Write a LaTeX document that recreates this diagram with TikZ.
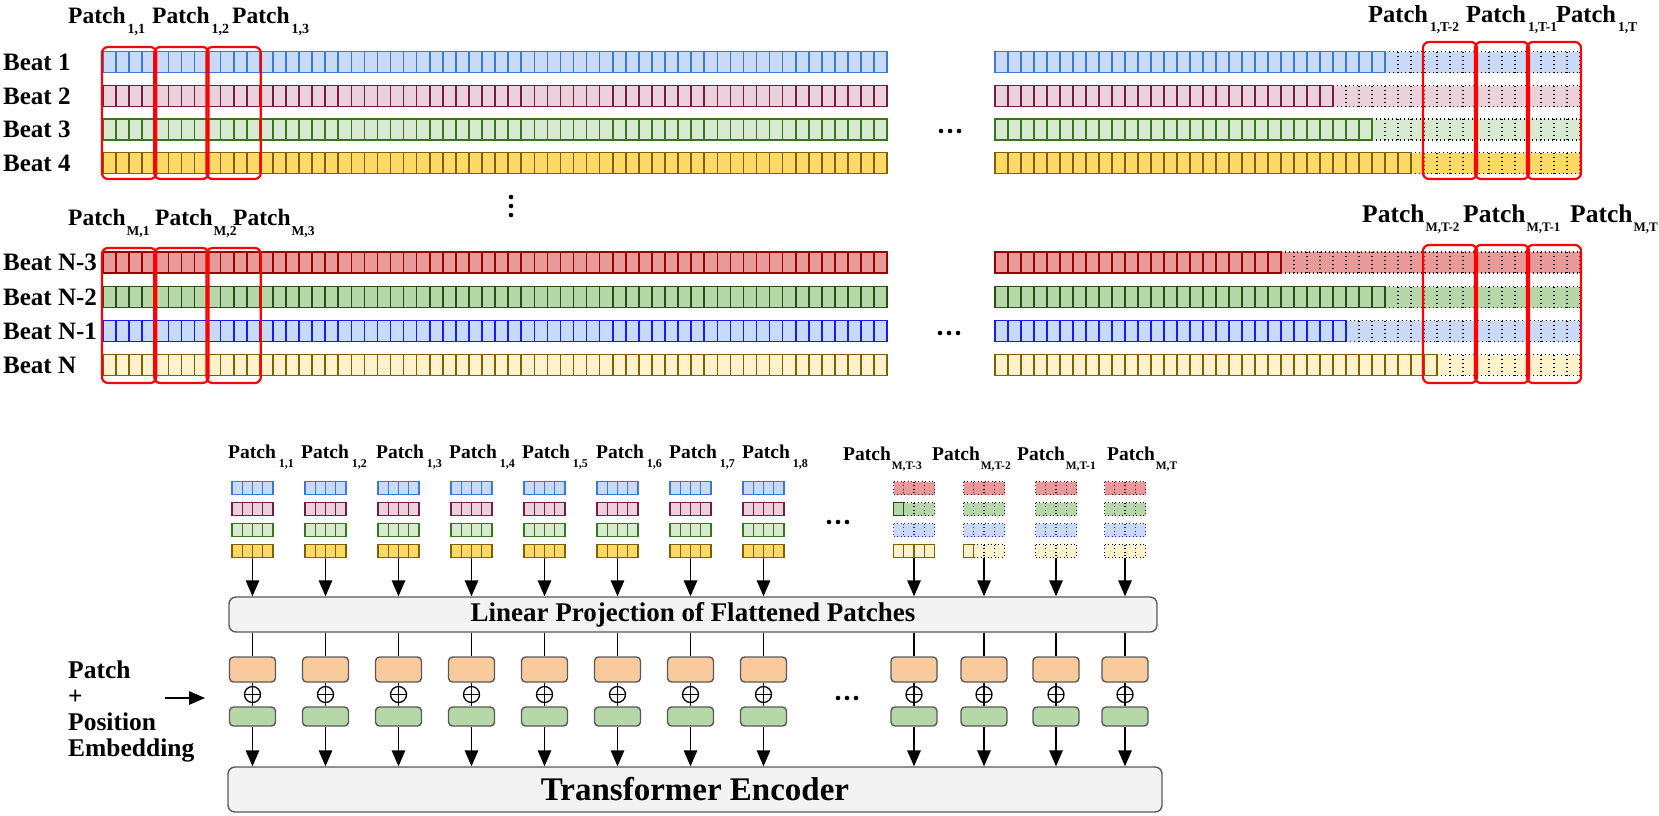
\documentclass[tikz,border=0pt]{standalone}
\usepackage{fontspec}
\setmainfont{Liberation Serif}
\usetikzlibrary{arrows.meta}
\definecolor{blueF}{HTML}{C9DAF8}
\definecolor{blueD}{HTML}{3C78D8}
\definecolor{blueD2}{HTML}{1A1AF5}
\definecolor{pinkF}{HTML}{EAD1DC}
\definecolor{pinkD}{HTML}{741B47}
\definecolor{greenF}{HTML}{D9EAD3}
\definecolor{greenD}{HTML}{38761D}
\definecolor{greenF2}{HTML}{B6D7A8}
\definecolor{greenD2}{HTML}{274E13}
\definecolor{yellowF}{HTML}{FFD966}
\definecolor{yellowF2}{HTML}{FFF2CC}
\definecolor{yellowD}{HTML}{7F6000}
\definecolor{redF}{HTML}{EA9999}
\definecolor{redD}{HTML}{990000}
\definecolor{orangeF}{HTML}{F9CB9C}
\definecolor{boxD}{HTML}{595959}
\definecolor{lpF}{HTML}{F3F3F3}
\definecolor{patchRed}{HTML}{FF0000}

% #1 x0, #2 y centre, #3 cell width, #4 cell height, #5 total cells, #6 solid cells, #7 fill, #8 edge, #9 dot colour
\newcommand\cellrow[9]{%
  \pgfmathsetmacro\xa{#1}%
  \pgfmathsetmacro\xs{#1+#6*#3}%
  \pgfmathsetmacro\xe{#1+#5*#3}%
  \pgfmathsetmacro\yt{#2-#4/2}%
  \pgfmathsetmacro\yb{#2+#4/2}%
  \ifnum#6<#5\relax
    \fill[#7] (\xs,\yt) rectangle (\xe,\yb);
    \draw[#9,dotline] (\xs,\yt) -- (\xe,\yt) (\xs,\yb) -- (\xe,\yb);
    \foreach \k in {#6,...,#5}{\draw[#9,dotline] ({#1+\k*#3},\yt) -- ({#1+\k*#3},\yb);}
  \fi
  \ifnum#6>0\relax
    \fill[#7] (\xa,\yt) rectangle (\xs,\yb);
    \foreach \k in {0,...,#6}{\draw[#8,solidline] ({#1+\k*#3},\yt) -- ({#1+\k*#3},\yb);}
    \draw[#8,solidline] (\xa,\yt) rectangle (\xs,\yb);
  \fi
}
% #1 drop, #2 subscript size, #3 gap, #4 subscript
\newcommand\psub[4]{Patch\hspace{#3}\raisebox{-#1}{\fontsize{#2}{#2}\selectfont #4}}

\begin{document}
\begin{tikzpicture}[x=1pt,y=-1pt,
  solidline/.style={line width=1.6pt},
  dotline/.style={line width=1.4pt, dash pattern=on 1.4pt off 2.6pt},
  pbox/.style={draw=patchRed, line width=2.2pt, rounded corners=6pt},
  beat/.style={font=\fontsize{25}{25}\selectfont\bfseries, anchor=base west, inner sep=0},
  lblS/.style={font=\fontsize{23.5}{23.5}\selectfont\bfseries, anchor=base west, inner sep=0},
  lblL/.style={font=\fontsize{24.5}{24.5}\selectfont\bfseries, anchor=base west, inner sep=0},
  lblB/.style={font=\fontsize{19.5}{19.5}\selectfont\bfseries, anchor=base west, inner sep=0},
  bigbox/.style={draw=boxD, fill=lpF, line width=1.4pt, rounded corners=7pt, inner sep=0},
  obox/.style={draw=boxD, fill=orangeF, line width=1.4pt, rounded corners=4pt, minimum width=46pt, minimum height=25pt, inner sep=0},
  gbox/.style={draw=boxD, fill=greenF2, line width=1.4pt, rounded corners=4pt, minimum width=46pt, minimum height=19pt, inner sep=0},
  oplus/.style={circle, draw, line width=1.3pt, minimum size=16pt, inner sep=0, fill=white,
    path picture={\draw[line width=1.3pt] (path picture bounding box.north) -- (path picture bounding box.south)
      (path picture bounding box.west) -- (path picture bounding box.east);}},
  arr/.style={line width=1.5pt, -{Triangle[length=16pt,width=13.5pt]}},
  conn/.style={line width=1.5pt}
]
\useasboundingbox (0,0) rectangle (1659,815);
\fill[white] (0,0) rectangle (1659,815);

% ---------- top block: beats 1-4 ----------
\cellrow{103}{62}{13.07}{21}{60}{60}{blueF}{blueD}{black}
\cellrow{103}{96}{13.07}{21}{60}{60}{pinkF}{pinkD}{black}
\cellrow{103}{129.5}{13.07}{21}{60}{60}{greenF}{greenD}{black}
\cellrow{103}{163}{13.07}{21}{60}{60}{yellowF}{yellowD}{black}
\cellrow{995}{62}{13}{21}{45}{30}{blueF}{blueD}{black}
\cellrow{995}{96}{13}{21}{45}{26}{pinkF}{pinkD}{black}
\cellrow{995}{129.5}{13}{21}{45}{29}{greenF}{greenD}{black}
\cellrow{995}{163}{13}{21}{45}{32}{yellowF}{yellowD}{black}

% ---------- lower block: beats N-3..N ----------
\cellrow{103}{262.5}{13.07}{21}{60}{60}{redF}{redD}{black}
\cellrow{103}{297}{13.07}{21}{60}{60}{greenF2}{greenD2}{black}
\cellrow{103}{331}{13.07}{21}{60}{60}{blueF}{blueD2}{black}
\cellrow{103}{365}{13.07}{21}{60}{60}{yellowF2}{yellowD}{black}
\cellrow{995}{262.5}{13}{21}{45}{22}{redF}{redD}{black}
\cellrow{995}{297}{13}{21}{45}{30}{greenF2}{greenD2}{black}
\cellrow{995}{331}{13}{21}{45}{27}{blueF}{blueD2}{black}
\cellrow{995}{365}{13}{21}{45}{34}{yellowF2}{yellowD}{black}

% red patch frames
\foreach \k in {0,1,2}{
  \draw[pbox] ({102+52.28*\k},47) rectangle ({104+52.28*(\k+1)},179);
  \draw[pbox] ({102+52.28*\k},248) rectangle ({104+52.28*(\k+1)},383);
  \draw[pbox] ({1423+52*\k},42) rectangle ({1425+52*(\k+1)},179);
  \draw[pbox] ({1423+52*\k},245) rectangle ({1425+52*(\k+1)},383);
}

% beat labels
\node[beat] (b1) at (3,70) {Beat 1};
\node[beat] (b2) at (3,104) {Beat 2};
\node[beat] (b3) at (3,137.5) {Beat 3};
\node[beat] (b4) at (3,171) {Beat 4};
\node[beat] (bn3) at (3,270.5) {Beat N-3};
\node[beat] (bn2) at (3,305) {Beat N-2};
\node[beat] (bn1) at (3,339) {Beat N-1};
\node[beat] (bn) at (3,373) {Beat N};

% patch labels (upper area)
\node[lblS] (t11) at (68,23) {\psub{10pt}{14}{2pt}{1,1}};
\node[lblS] (t12) at (152,23) {\psub{10pt}{14}{2pt}{1,2}};
\node[lblS] (t13) at (232,23) {\psub{10pt}{14}{2pt}{1,3}};
\node[lblL] (t1a) at (1368,22) {\psub{9pt}{13.5}{2pt}{1,T-2}};
\node[lblL] (t1b) at (1466,22) {\psub{9pt}{13.5}{2pt}{1,T-1}};
\node[lblL] (t1c) at (1556,22) {\psub{9pt}{13.5}{2pt}{1,T}};
\node[lblS] (tm1) at (68,225) {\psub{10pt}{13.5}{1pt}{M,1}};
\node[lblS] (tm2) at (155,225) {\psub{10pt}{13.5}{1pt}{M,2}};
\node[lblS] (tm3) at (233,225) {\psub{10pt}{13.5}{1pt}{M,3}};
\node[lblL, font=\fontsize{25.5}{25.5}\selectfont\bfseries] (tma) at (1362,222) {\psub{9pt}{13}{1pt}{M,T-2}};
\node[lblL, font=\fontsize{25.5}{25.5}\selectfont\bfseries] (tmb) at (1463,222) {\psub{9pt}{13}{1pt}{M,T-1}};
\node[lblL, font=\fontsize{25.5}{25.5}\selectfont\bfseries] (tmc) at (1570,222) {\psub{9pt}{13}{1pt}{M,T}};

% ellipses
\foreach \dx in {-9,0,9}{
  \fill ({950+\dx},131) circle (2.3pt);
  \fill ({949+\dx},333) circle (2.3pt);
  \fill ({838+\dx},522) circle (2.3pt);
  \fill ({847+\dx},698) circle (2.3pt);
}
\foreach \dy in {197,206,215}{ \fill (511,\dy) circle (2.3pt); }

% ---------- bottom: flattened patches ----------
\begin{scope}[solidline/.style={line width=1.3pt},
  dotline/.style={line width=1.3pt, dash pattern=on 1.2pt off 2.3pt}]
\foreach \gx in {232,305,...,743}{
  \cellrow{\gx}{488}{10.25}{13}{4}{4}{blueF}{blueD}{black}
  \cellrow{\gx}{509}{10.25}{13}{4}{4}{pinkF}{pinkD}{black}
  \cellrow{\gx}{530}{10.25}{13}{4}{4}{greenF}{greenD}{black}
  \cellrow{\gx}{551}{10.25}{13}{4}{4}{yellowF}{yellowD}{black}
}
\cellrow{893.5}{488}{10.25}{13}{4}{0}{redF}{redD}{black}
\cellrow{893.5}{509}{10.25}{13}{4}{1}{greenF2}{greenD2}{black}
\cellrow{893.5}{530}{10.25}{13}{4}{0}{blueF}{blueD2}{blueD2}
\cellrow{893.5}{551}{10.25}{13}{4}{4}{yellowF2}{yellowD}{black}
\cellrow{963.5}{488}{10.25}{13}{4}{0}{redF}{redD}{black}
\cellrow{963.5}{509}{10.25}{13}{4}{0}{greenF2}{greenD2}{black}
\cellrow{963.5}{530}{10.25}{13}{4}{0}{blueF}{blueD2}{blueD2}
\cellrow{963.5}{551}{10.25}{13}{4}{1}{yellowF2}{yellowD}{black}
\foreach \gx in {1035.5,1104.5}{
  \cellrow{\gx}{488}{10.25}{13}{4}{0}{redF}{redD}{black}
  \cellrow{\gx}{509}{10.25}{13}{4}{0}{greenF2}{greenD2}{black}
  \cellrow{\gx}{530}{10.25}{13}{4}{0}{blueF}{blueD2}{blueD2}
  \cellrow{\gx}{551}{10.25}{13}{4}{0}{yellowF2}{yellowD}{black}
}
\end{scope}

\foreach \lx/\s [count=\i] in {228/{1,1},301/{1,2},376/{1,3},449/{1,4},522/{1,5},596/{1,6},669/{1,7},742/{1,8}}{
  \node[lblB] (q\i) at (\lx,458) {\psub{9pt}{12}{3pt}{\s}};
}
\node[lblB] (qa) at (843,460) {\psub{9pt}{11.5}{1pt}{M,T-3}};
\node[lblB] (qb) at (932,460) {\psub{9pt}{11.5}{1pt}{M,T-2}};
\node[lblB] (qc) at (1017,460) {\psub{9pt}{11.5}{1pt}{M,T-1}};
\node[lblB] (qd) at (1107,460) {\psub{9pt}{11.5}{1pt}{M,T}};

\node[bigbox, minimum width=928pt, minimum height=35pt, font=\fontsize{27}{27}\selectfont\bfseries] (lp) at (693,614.5) {Linear Projection of Flattened Patches};
\node[bigbox, minimum width=934pt, minimum height=45pt, font=\fontsize{33}{33}\selectfont\bfseries] (te) at (695,789.5) {Transformer Encoder};

\foreach \cx [count=\i] in {252.5,325.5,398.5,471.5,544.5,617.5,690.5,763.5,914,984,1056,1125}{
  \coordinate (gb\i) at (\cx,557.5);
  \node[obox] (o\i) at (\cx,669.5) {};
  \node[gbox] (g\i) at (\cx,716.5) {};
  \node[oplus] (s\i) at (\cx,694.5) {};
  \draw[arr] (gb\i) -- (gb\i |- lp.north);
  \draw[conn] (lp.south -| o\i) -- (o\i.north);
  \draw[conn] (o\i.south) -- (s\i.north) (s\i.south) -- (g\i.north);
  \draw[arr] (g\i.south) -- (g\i.south |- te.north);
}

\node[font=\fontsize{25.5}{25.7}\selectfont\bfseries, align=left, anchor=north west, inner sep=0] (ppe) at (68,661) {Patch\\+\\Position\\Embedding};
\coordinate (ppeS) at (165,698);
\coordinate (ppeT) at (205,698);
\draw[arr] (ppeS) -- (ppeT);
\end{tikzpicture}
\end{document}
